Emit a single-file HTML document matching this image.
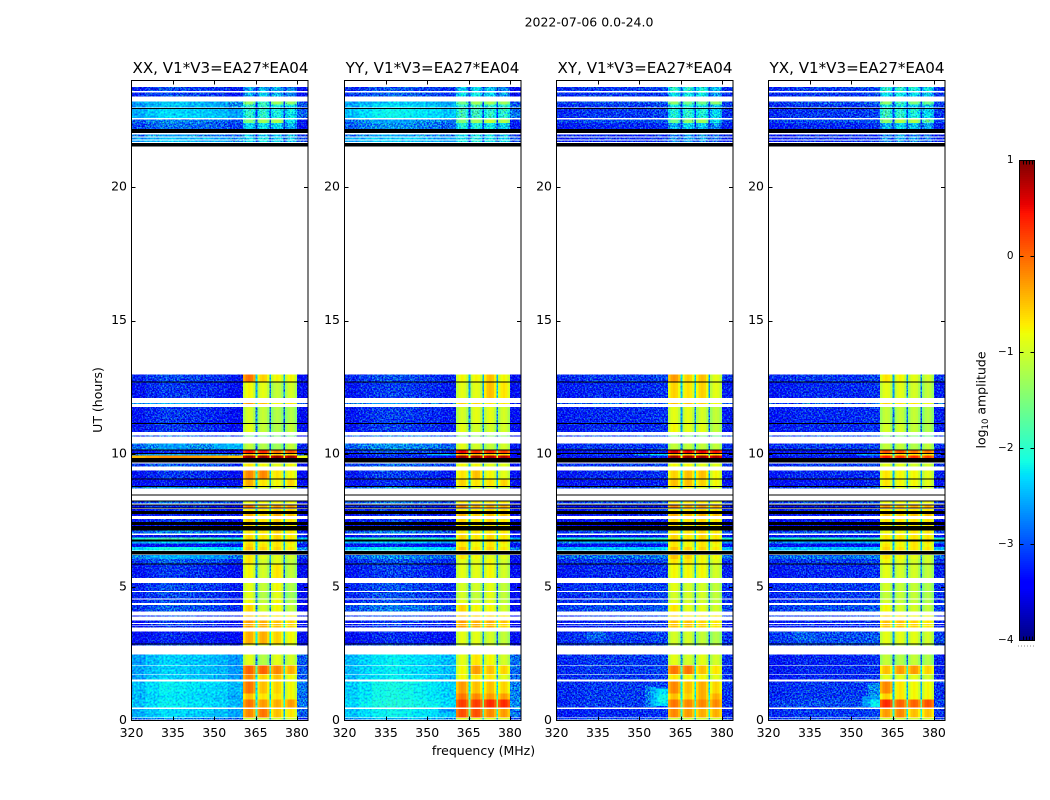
<!DOCTYPE html>
<html>
<head>
<meta charset="utf-8">
<title>2022-07-06 0.0-24.0</title>
<style>
html,body{margin:0;padding:0;background:#fff;}
svg{display:block;}
text{font-family:"DejaVu Sans","Liberation Sans",sans-serif;fill:#000;}
</style>
</head>
<body>
<svg id="figure" xmlns="http://www.w3.org/2000/svg" width="1050" height="800" viewBox="0 0 1050 800">
  <defs>
    <filter id="speckle" filterUnits="userSpaceOnUse" x="0" y="0" width="1050" height="800" color-interpolation-filters="sRGB">
      <feTurbulence type="fractalNoise" baseFrequency="0.62" numOctaves="2" seed="7" result="n"/>
      <feColorMatrix in="n" type="matrix" values="0.7 0 0 0 0.15  2.6 0 0 0 -0.8  0 2 0 0 -0.5  0 0 0 0 1" result="c"/>
      <feComposite in="SourceGraphic" in2="c" operator="arithmetic" k1="0" k2="1" k3="0.7" k4="-0.35" result="m"/>
      <feComposite in="m" in2="SourceAlpha" operator="in"/>
    </filter>
    <filter id="speckleSoft" filterUnits="userSpaceOnUse" x="0" y="0" width="1050" height="800" color-interpolation-filters="sRGB">
      <feTurbulence type="fractalNoise" baseFrequency="0.5" numOctaves="2" seed="11" result="n"/>
      <feColorMatrix in="n" type="matrix" values="0 0 0 0 0.5  1.3 0 0 0 -0.15  0 0.6 0 0 0.2  0 0 0 0 1" result="c"/>
      <feComposite in="SourceGraphic" in2="c" operator="arithmetic" k1="0" k2="1" k3="0.7" k4="-0.35" result="m"/>
      <feComposite in="m" in2="SourceAlpha" operator="in"/>
    </filter>
  </defs>
  <text x="589" y="26.5" text-anchor="middle" font-size="12.5">2022-07-06 0.0-24.0</text>
  <text x="220.5" y="73" text-anchor="middle" font-size="15.1">XX, V1*V3=EA27*EA04</text>
  <text x="432.5" y="73" text-anchor="middle" font-size="15.1">YY, V1*V3=EA27*EA04</text>
  <text x="645" y="73" text-anchor="middle" font-size="15.1">XY, V1*V3=EA27*EA04</text>
  <text x="857" y="73" text-anchor="middle" font-size="15.1">YX, V1*V3=EA27*EA04</text>
  <text x="0" y="0" transform="translate(102,400) rotate(-90)" text-anchor="middle" font-size="12.5">UT (hours)</text>
  <text x="483.5" y="755" text-anchor="middle" font-size="12.5">frequency (MHz)</text>
  <text x="0" y="0" transform="translate(985.5,400) rotate(-90)" text-anchor="middle" font-size="12.5">log<tspan font-size="8.5" dy="2.5">10</tspan><tspan dy="-2.5"> amplitude</tspan></text>
  <g id="panels"></g>
  <g id="colorbar"></g>
</svg>
<script>
// ---- chart data: UT edges of each observed row, hours ----
var rowTop = [23.75,23.55,23.21,23.10,22.94,22.53,22.40,21.98,21.86,21.75,12.98,12.68,11.91,11.75,11.13,10.69,10.39,10.15,10.00,9.94,9.64,9.38,9.06,8.78,8.21,8.06,7.94,7.74,7.56,7.34,7.13,6.96,6.87,6.71,6.63,6.50,6.21,6.06,5.86,5.15,4.81,4.54,4.34,3.94,3.75,3.62,3.55,3.34,2.86,2.48,2.06,1.73,1.47,1.01,0.79,0.44,0.09];
var rowBottom = [23.60,23.40,23.10,22.98,22.60,22.40,22.19,21.90,21.79,21.69,12.72,12.10,11.88,11.16,10.81,10.65,10.17,10.03,9.94,9.84,9.53,9.08,8.80,8.70,8.14,7.99,7.85,7.66,7.44,7.29,7.02,6.87,6.79,6.63,6.50,6.38,6.06,5.88,5.34,4.85,4.57,4.40,4.09,3.90,3.65,3.57,3.48,2.88,2.81,2.09,1.75,1.53,1.01,0.79,0.48,0.12,0.03];
// rows that fall below the colour range (drawn black): pairs of top, bottom UT
var lowRowsShared = [[22.97,22.94],[22.19,22.03],[21.65,21.53],[12.72,12.68],[11.16,11.13],[10.17,10.15],[10.03,10.00],[9.84,9.68],[9.08,9.06],[8.80,8.78],[8.48,8.45],[8.25,8.22],[8.10,8.07],[7.99,7.95],[7.85,7.74],[7.44,7.34],[7.29,7.13],[6.79,6.71],[6.36,6.23],[5.88,5.86],[2.88,2.86]];
// log10 amplitude per row: background, band 1, band 2, band 3, band 4
var valuesXX = [
[-3.1,-2.6,-2.5,-2.5,-2.7],[-3.1,-2.5,-2.4,-2.5,-2.7],[-2.5,-1.4,-1.9,-1.3,-1.4],[-2.5,-2.0,-2.0,-2.1,-2.2],[-2.4,-2.0,-2.0,-2.1,-2.2],[-2.8,-1.5,-1.3,-1.2,-2.2],[-2.9,-2.3,-2.2,-2.3,-2.5],[-2.7,-2.4,-2.3,-2.4,-2.5],[-2.5,-2.3,-2.2,-2.3,-2.4],[-2.5,-2.3,-2.2,-2.3,-2.4],
[-3.1,-0.1,-0.6,-0.8,-0.8],[-3.2,-0.8,-0.9,-1.1,-1.0],[-2.6,-0.3,-0.5,-0.8,-0.7],[-3.2,-1.0,-1.1,-1.2,-1.2],[-3.2,-0.9,-1.1,-1.2,-1.1],[-2.9,-1.5,-1.5,-1.5,-1.5],[-2.7,-1.1,-1.2,-1.3,-1.1],[-3.3,0.4,0.3,-0.1,0.1],[-2.6,-0.5,-0.5,-0.6,-0.6],[-0.3,0.9,0.9,0.9,0.9],
[-3.0,-0.7,-0.8,-0.9,-0.8],[-3.2,-0.2,-0.2,-0.7,-0.8],[-3.4,-0.4,-0.7,-0.8,-0.6],[-2.7,-0.9,-0.9,-1.0,-1.0],[-2.9,-0.8,-0.8,-0.8,-0.8],[-3.2,-0.1,-0.5,-0.3,-0.3],[-3.2,-0.7,-0.7,-0.6,-0.6],[-3.3,-0.4,-0.6,-0.4,-0.5],[-3.2,-0.6,-0.7,-0.6,-0.7],[-3.3,-0.6,-0.7,-0.6,-0.7],[-2.8,-0.7,-0.7,-0.6,-0.7],[-3.4,-0.6,-0.7,-0.6,-0.7],[-1.9,-0.6,-0.7,-0.6,-0.7],[-2.4,-0.7,-0.8,-0.7,-0.7],[-3.4,-0.6,-0.7,-0.7,-0.8],[-2.2,-0.5,-0.6,-0.6,-0.7],
[-2.6,-0.7,-0.9,-0.9,-1.0],[-3.0,-0.7,-1.0,-0.9,-1.1],[-3.2,-0.8,-1.0,-0.7,-1.1],[-3.1,-0.9,-1.1,-0.8,-1.2],[-3.1,-0.9,-1.2,-0.9,-1.3],[-3.1,-0.8,-1.1,-0.8,-1.2],[-3.0,-0.6,-1.0,-0.8,-1.1],[-3.1,-0.5,-0.6,-0.7,-0.7],[-3.2,-0.3,-0.4,-0.5,-0.6],[-3.2,-0.4,-0.4,-0.5,-0.6],[-3.2,-0.3,-0.4,-0.5,-0.6],[-3.3,-0.4,-0.4,-0.6,-0.8],[-3.0,-0.8,-0.9,-0.9,-1.0],
[-2.45,-0.9,-1.2,-0.9,-1.0],[-2.45,0.0,0.0,-0.2,-0.4],[-2.45,-0.2,-0.6,-0.5,-0.8],[-2.3,-0.1,-0.5,-0.6,-0.8],[-2.35,-0.5,-0.7,-0.7,-0.8],[-2.3,-0.1,-0.3,-0.4,-0.3],[-2.4,-0.2,-0.1,-0.5,-0.7],[-2.8,-1.0,-1.0,-1.0,-1.0]
];
var valuesYY = [
[-3.1,-2.4,-2.3,-2.4,-2.7],[-3.0,-2.3,-2.2,-2.3,-2.6],[-2.5,-1.6,-1.3,-1.3,-1.3],[-2.4,-2.0,-1.9,-2.0,-2.0],[-2.3,-1.9,-1.9,-2.0,-2.0],[-2.7,-1.5,-1.3,-1.1,-1.2],[-2.8,-2.1,-2.1,-2.2,-2.3],[-2.7,-2.2,-2.2,-2.3,-2.4],[-2.5,-2.2,-2.1,-2.2,-2.3],[-2.5,-2.2,-2.1,-2.2,-2.3],
[-3.1,-0.8,-0.8,-0.5,-0.8],[-3.2,-0.9,-0.9,-0.5,-0.7],[-2.7,-0.6,-0.6,-0.7,-0.7],[-3.2,-1.0,-0.9,-0.9,-1.0],[-3.2,-0.9,-1.0,-1.0,-1.0],[-2.9,-1.4,-1.4,-1.4,-1.4],[-2.8,-0.9,-1.0,-1.1,-1.0],[-3.1,0.5,0.3,0.3,0.2],[-3.2,-0.5,-0.5,-0.6,-0.6],[-3.3,0.9,0.9,0.8,0.8],
[-3.0,-0.8,-0.8,-0.9,-0.9],[-3.2,-0.7,-0.5,-0.8,-0.9],[-3.3,-0.6,-0.7,-0.7,-0.6],[-2.8,-0.9,-1.0,-1.0,-1.0],[-2.9,-0.7,-0.7,-0.7,-0.7],[-3.2,-0.2,-0.4,-0.4,-0.4],[-3.2,-0.7,-0.7,-0.6,-0.6],[-3.3,-0.4,-0.6,-0.5,-0.5],[-3.2,-0.6,-0.7,-0.6,-0.7],[-3.3,-0.6,-0.7,-0.7,-0.7],[-2.9,-0.7,-0.7,-0.7,-0.7],[-3.4,-0.6,-0.7,-0.6,-0.7],[-2.0,-0.6,-0.7,-0.6,-0.7],[-2.5,-0.7,-0.8,-0.7,-0.7],[-3.4,-0.7,-0.8,-0.7,-0.8],[-2.3,-0.5,-0.7,-0.6,-0.7],
[-2.8,-0.7,-0.8,-0.9,-0.9],[-3.1,-0.9,-0.9,-0.8,-1.0],[-3.2,-0.9,-0.9,-0.8,-1.0],[-3.1,-1.0,-1.0,-0.9,-1.1],[-3.1,-1.0,-1.1,-0.9,-1.1],[-3.1,-0.9,-1.0,-0.9,-1.1],[-2.9,-0.6,-0.8,-0.8,-1.0],[-3.1,-0.5,-0.6,-0.6,-0.7],[-3.2,-0.3,-0.4,-0.4,-0.5],[-3.2,-0.4,-0.4,-0.5,-0.6],[-3.2,-0.3,-0.4,-0.4,-0.6],[-3.3,-0.9,-0.9,-1.0,-1.1],[-3.0,-1.0,-1.0,-1.0,-1.0],
[-2.35,-0.9,-0.7,-0.8,-1.0],[-2.35,-0.8,-0.3,-0.5,-0.6],[-2.35,-0.8,-0.7,-0.7,-0.9],[-2.25,-0.3,-0.5,-0.5,-0.6],[-2.25,-0.1,-0.2,-0.3,-0.3],[-2.2,0.2,0.2,0.3,0.3],[-2.3,0.1,0.1,-0.2,-0.3],[-2.6,-0.9,-0.9,-0.9,-0.9]
];
var valuesXY = [
[-3.1,-2.0,-2.0,-2.1,-2.4],[-3.1,-2.3,-2.2,-2.2,-2.6],[-3.0,-1.4,-1.6,-1.6,-1.4],[-3.1,-2.2,-2.1,-2.2,-2.4],[-3.1,-2.1,-2.0,-2.1,-2.3],[-3.0,-1.6,-1.4,-1.3,-2.2],[-3.2,-2.5,-2.3,-2.4,-2.7],[-3.2,-2.7,-2.6,-2.7,-2.9],[-3.2,-2.7,-2.5,-2.6,-2.8],[-3.2,-2.7,-2.6,-2.7,-2.9],
[-3.1,-0.3,-0.6,-0.5,-0.9],[-3.2,-0.6,-0.7,-0.6,-0.9],[-2.9,-0.5,-0.5,-0.6,-0.8],[-3.2,-0.9,-0.9,-1.0,-1.1],[-3.2,-0.8,-0.9,-0.9,-1.1],[-3.0,-1.5,-1.5,-1.5,-1.6],[-3.1,-1.1,-1.1,-1.1,-1.1],[-3.3,0.6,0.5,0.5,0.4],[-3.1,-0.5,-0.5,-0.6,-0.6],[-3.3,0.9,0.9,0.9,0.8],
[-3.1,-0.8,-0.8,-0.9,-0.9],[-3.2,-0.6,-0.5,-0.5,-0.8],[-3.3,-0.5,-0.5,-0.6,-0.8],[-3.0,-0.8,-0.8,-0.9,-1.0],[-3.0,-0.7,-0.7,-0.7,-0.8],[-3.3,-0.2,-0.4,-0.3,-0.4],[-3.2,-0.7,-0.7,-0.6,-0.7],[-3.3,-0.4,-0.5,-0.4,-0.5],[-3.3,-0.6,-0.7,-0.6,-0.7],[-3.4,-0.6,-0.7,-0.6,-0.7],[-3.0,-0.7,-0.7,-0.6,-0.7],[-3.4,-0.6,-0.7,-0.6,-0.7],[-2.0,-0.6,-0.7,-0.6,-0.7],[-2.6,-0.7,-0.8,-0.7,-0.7],[-3.4,-0.7,-0.8,-0.7,-0.8],[-2.4,-0.5,-0.6,-0.6,-0.7],
[-2.8,-0.5,-0.6,-0.8,-0.8],[-3.1,-0.7,-0.7,-0.8,-0.9],[-3.2,-0.8,-0.8,-0.8,-1.0],[-3.1,-0.9,-1.0,-1.0,-1.1],[-3.1,-1.0,-1.0,-1.0,-1.1],[-3.1,-0.9,-1.0,-1.0,-1.1],[-3.0,-0.7,-0.9,-0.9,-1.0],[-3.1,-0.6,-0.7,-0.7,-0.7],[-3.2,-0.5,-0.5,-0.6,-0.7],[-3.2,-0.5,-0.5,-0.6,-0.7],[-3.2,-0.5,-0.5,-0.6,-0.7],[-3.1,-1.0,-1.0,-1.1,-1.2],[-3.0,-1.1,-1.1,-1.1,-1.1],
[-3.1,-0.9,-1.0,-0.9,-1.0],[-3.1,-0.1,-0.1,-0.5,-0.7],[-3.1,-0.7,-0.8,-0.8,-0.9],[-3.1,-0.2,-0.5,-0.4,-0.6],[-3.1,-0.5,-0.6,-0.4,-0.4],[-3.1,-0.1,-0.2,-0.2,-0.2],[-3.2,-0.2,-0.3,-0.4,-0.4],[-3.0,-1.0,-1.0,-1.0,-1.0]
];
var valuesYX = [
[-3.1,-2.0,-2.0,-2.1,-2.2],[-3.1,-2.3,-2.2,-2.3,-2.4],[-3.0,-1.4,-1.9,-1.5,-1.6],[-3.1,-2.2,-2.2,-2.3,-2.4],[-3.1,-1.9,-2.0,-2.1,-2.3],[-3.0,-1.4,-1.2,-1.2,-1.7],[-3.2,-2.5,-2.3,-2.4,-2.6],[-3.2,-2.7,-2.6,-2.7,-2.9],[-3.2,-2.7,-2.5,-2.6,-2.8],[-3.2,-2.7,-2.6,-2.7,-2.9],
[-3.1,-0.7,-0.8,-0.9,-1.0],[-3.2,-0.9,-0.9,-1.0,-1.1],[-2.9,-0.6,-0.7,-0.7,-0.8],[-3.2,-1.1,-1.1,-1.1,-1.2],[-3.2,-1.0,-1.0,-1.1,-1.2],[-3.0,-1.5,-1.5,-1.5,-1.6],[-3.1,-1.1,-1.1,-1.2,-1.1],[-3.3,0.1,0.1,-0.1,-0.1],[-3.1,-0.7,-0.7,-0.7,-0.7],[-3.3,0.4,0.3,0.3,0.2],
[-3.1,-0.9,-0.9,-1.0,-1.0],[-3.2,-0.7,-0.8,-0.8,-0.9],[-3.3,-0.7,-0.8,-0.8,-0.9],[-3.0,-0.9,-0.9,-1.0,-1.0],[-3.0,-0.8,-0.8,-0.8,-0.8],[-3.3,-0.3,-0.5,-0.4,-0.4],[-3.2,-0.7,-0.7,-0.7,-0.7],[-3.3,-0.5,-0.6,-0.5,-0.5],[-3.3,-0.7,-0.7,-0.7,-0.7],[-3.4,-0.7,-0.7,-0.7,-0.7],[-3.0,-0.8,-0.8,-0.7,-0.7],[-3.4,-0.7,-0.7,-0.7,-0.7],[-2.0,-0.7,-0.7,-0.7,-0.7],[-2.6,-0.8,-0.8,-0.7,-0.7],[-3.4,-0.7,-0.8,-0.7,-0.8],[-2.4,-0.6,-0.7,-0.7,-0.7],
[-2.8,-0.7,-0.8,-0.9,-1.0],[-3.1,-0.8,-0.9,-1.0,-1.0],[-3.2,-0.9,-1.0,-1.0,-1.1],[-3.1,-1.0,-1.1,-1.1,-1.2],[-3.1,-1.1,-1.1,-1.1,-1.2],[-3.1,-1.0,-1.1,-1.1,-1.2],[-3.0,-0.8,-1.0,-1.0,-1.1],[-3.1,-0.6,-0.7,-0.8,-0.8],[-3.2,-0.5,-0.5,-0.6,-0.7],[-3.2,-0.5,-0.6,-0.6,-0.7],[-3.2,-0.5,-0.5,-0.6,-0.7],[-3.0,-0.9,-0.9,-0.9,-1.0],[-3.0,-1.1,-1.1,-1.1,-1.1],
[-3.2,-1.1,-1.2,-1.1,-1.2],[-3.2,-0.5,-0.3,-0.3,-0.6],[-3.2,-0.9,-0.9,-0.9,-1.0],[-3.1,-0.2,-0.7,-0.8,-0.8],[-3.1,-0.6,-0.7,-0.8,-0.8],[-3.0,0.3,0.0,0.0,0.1],[-3.1,-0.3,-0.2,-0.5,-0.5],[-3.0,-1.0,-1.0,-1.0,-1.0]
];
// background shape across frequency: eight 5 MHz bins from 320, then the 380-384 edge
var shapeXX = [-0.14,0.0,0.1,0.08,0.04,0,-0.05,-0.18,-0.5];
var shapeYY = [-0.12,0.0,0.1,0.14,0.1,0.05,0,-0.1,-0.5];
var shapeXY = [-0.1,-0.05,0,0,0,0,0,0.05,-0.05];
var shapeYX = [-0.1,-0.05,0,0,0,0,0,0.05,-0.05];
// localised bright patches: top UT, bottom UT, start MHz, end MHz, log10 amplitude
var patchesXX = [[10.39,10.19,350,360.5,-2.5]];
var patchesYY = [[10.0,9.94,350,360.5,-2.5],[0.44,0.3,354,360.5,-2.6]];
var patchesXY = [[1.3,0.5,352,354,-2.8],[1.25,0.5,354,356,-2.5],[1.2,0.55,356,360.5,-2.3],[1.0,0.65,357,360.5,-2.15],[10.0,9.94,348,354,-2.7],[10.0,9.94,354,360.5,-2.3],[3.3,3.0,331,338,-2.9]];
var patchesYX = [[1.4,0.9,356,360.5,-2.7],[0.9,0.79,354,360.5,-2.6],[0.79,0.5,354,357,-2.6],[0.79,0.5,357,360.5,-2.2],[10.0,9.94,352,360.5,-2.6],[3.3,3.0,329,337,-2.9]];
// panel labels and ticks
var panelIds = ['xx','yy','xy','yx'];
var panelValues = [valuesXX,valuesYY,valuesXY,valuesYX];
var panelShapes = [shapeXX,shapeYY,shapeXY,shapeYX];
var panelPatches = [patchesXX,patchesYY,patchesXY,patchesYX];
var freqTicks = [320,335,350,365,380];
var utTicks = [0,5,10,15,20];
var colorTicks = [1,0,-1,-2,-3,-4];
var colorTickLabels = ['1','0','\u22121','\u22122','\u22123','\u22124'];
// band layout in MHz and the lobe profile inside each band
var bandStart = [360.5,365.6,370.6,375.7];
var bandEnd = [365.0,370.0,375.1,380.0];
var bandLobe = [-0.22,0,0.06,0,-0.22];

var NS = 'http://www.w3.org/2000/svg';
var panelLeft = [131.5,344.5,556.5,768.5];
var panelWidth = 176.5;
var axTop = 80.5, axBottom = 720.5;
var freqMin = 320, freqMax = 384, utMin = 0, utMax = 24, cMin = -4, cMax = 1;

function xScale(i,f){ return panelLeft[i] + (f-freqMin)/(freqMax-freqMin)*panelWidth; }
function yScale(t){ return axBottom - (t-utMin)/(utMax-utMin)*(axBottom-axTop); }
function interp(xs,ys,x){
  for(var k=1;k<xs.length;k++){ if(x<=xs[k]) return ys[k-1]+(ys[k]-ys[k-1])*(x-xs[k-1])/(xs[k]-xs[k-1]); }
  return ys[ys.length-1];
}
function jet(v){
  if(v<cMin) return '#000000';
  var u = Math.min(1,(v-cMin)/(cMax-cMin));
  var r = interp([0,0.35,0.66,0.89,1],[0,0,1,1,0.5],u);
  var g = interp([0,0.125,0.375,0.64,0.91,1],[0,0,1,1,0,0],u);
  var b = interp([0,0.11,0.34,0.65,1],[0.5,1,1,0,0],u);
  return 'rgb('+Math.round(r*255)+','+Math.round(g*255)+','+Math.round(b*255)+')';
}
function mk(tag,parent,attrs){
  var el = document.createElementNS(NS,tag);
  for(var a in attrs){ el.setAttribute(a,attrs[a]); }
  parent.appendChild(el);
  return el;
}
function addCell(layers,i,isBand,tTop,tBot,f0,f1,v){
  var x0 = xScale(i,f0), x1 = xScale(i,f1), y0 = yScale(tTop), y1 = yScale(tBot);
  var target = layers.plain;
  if(v >= cMin && v < -1.6){
    target = (isBand || v < -2.65) ? layers.strong : layers.soft;
  }
  var el = mk('rect',target,{x:x0.toFixed(2),y:y0.toFixed(2),width:(x1-x0).toFixed(2),height:Math.max(1,y1-y0).toFixed(2),fill:jet(v),'shape-rendering':'crispEdges'});
  
  
}
function addLine(parent,x1,y1,x2,y2,w){
  var el = mk('line',parent,{x1:x1,y1:y1,x2:x2,y2:y2,stroke:'#000','stroke-width':w||1});
  
  
}
function addText(parent,x,y,anchor,size,str,name){
  var el = mk('text',parent,{x:x,y:y,'text-anchor':anchor,'font-size':size});
  el.textContent = str;
  
  
}

var panelsRoot = document.getElementById('panels');
panelIds.forEach(function(id,i){
  var g = mk('g',panelsRoot,{});
  
  
  var strong = mk('g',g,{filter:'url(#speckle)'});
  
  
  var soft = mk('g',g,{filter:'url(#speckleSoft)'});
  
  
  var plain = mk('g',g,{});
  
  
  var layers = {strong:strong,soft:soft,plain:plain};
  var vals = panelValues[i], shape = panelShapes[i];
  for(var r=0;r<rowTop.length;r++){
    var row = vals[r], tT = rowTop[r], tB = rowBottom[r];
    for(var b=0;b<8;b++){
      var f0 = freqMin+b*5, f1 = (b===7)?bandStart[0]:f0+5;
      addCell(layers,i,false,tT,tB,f0,f1,Math.max(row[0]+shape[b],-3.45));
    }
    addCell(layers,i,false,tT,tB,bandEnd[3],freqMax,Math.max(row[0]+shape[8],-3.45));
    for(var s=0;s<4;s++){
      var w = (bandEnd[s]-bandStart[s])/bandLobe.length;
      for(var l=0;l<bandLobe.length;l++){
        addCell(layers,i,true,tT,tB,bandStart[s]+l*w,bandStart[s]+(l+1)*w,row[s+1]+bandLobe[l]);
      }
      if(s<3){
        addCell(layers,i,false,tT,tB,bandEnd[s],bandStart[s+1],Math.max(Math.min(row[s+1],row[s+2])-1.7,-3.1));
      }
    }
  }
  panelPatches[i].forEach(function(p){ addCell(layers,i,false,p[0],p[1],p[2],p[3],p[4]); });
  lowRowsShared.forEach(function(p){ addCell(layers,i,false,p[0],p[1],freqMin,freqMax,-9); });

  var L = panelLeft[i], R = L+panelWidth;
  var frame = mk('rect',g,{x:L,y:axTop,width:panelWidth,height:axBottom-axTop,fill:'none',stroke:'#000','stroke-width':1});
  
  
  freqTicks.forEach(function(f){
    var x = Math.round(xScale(i,f))+0.5;
    if(f!==freqMin){
      addLine(g,x,axBottom,x,axBottom-4);
      addLine(g,x,axTop,x,axTop+4);
    }
    addText(g,xScale(i,f),737,'middle',12.5,String(f),'x-tick-label');
  });
  utTicks.forEach(function(t){
    var y = Math.round(yScale(t))+0.5;
    if(t!==utMin){
      addLine(g,L,y,L+4,y);
      addLine(g,R,y,R-4,y);
    }
    addText(g,L-4.5,yScale(t)+3.5,'end',12.5,String(t),'y-tick-label');
  });
});

// colorbar
var cbRoot = document.getElementById('colorbar');
var cbLeft = 1019.5, cbWidth = 15, cbTop = 160.5, cbBottom = 640.5;
function cScale(v){ return cbBottom - (v-cMin)/(cMax-cMin)*(cbBottom-cbTop); }
for(var q=0;q<240;q++){
  var vLow = cMin+(cMax-cMin)*q/240, vHigh = cMin+(cMax-cMin)*(q+1)/240;
  var seg = mk('rect',cbRoot,{x:cbLeft,y:cScale(vHigh).toFixed(2),width:cbWidth,height:(cScale(vLow)-cScale(vHigh)+0.3).toFixed(2),fill:jet((vLow+vHigh)/2),'shape-rendering':'crispEdges'});
  
  
}
var cbFrame = mk('rect',cbRoot,{x:cbLeft,y:cbTop,width:cbWidth,height:cbBottom-cbTop,fill:'none',stroke:'#000','stroke-width':1});


colorTicks.forEach(function(v,k){
  var y = Math.round(cScale(v)-0.5)+0.5;
  addLine(cbRoot,cbLeft,y,cbLeft+4,y);
  addLine(cbRoot,cbLeft+cbWidth,y,cbLeft+cbWidth-4,y);
  addText(cbRoot,1013.5,cScale(v)+2.5,'end',10.5,colorTickLabels[k],'colorbar-tick-label');
});
for(var m=1;m<5;m++){
  var mx = Math.round(cbLeft+cbWidth*m/5)+0.5;
  addLine(cbRoot,mx,cbTop,mx,cbTop+4);
  addLine(cbRoot,mx,cbBottom,mx,cbBottom-4);
}
for(var d=0;d<6;d++){
  var dot = mk('rect',cbRoot,{x:1018+d*3,y:645.5,width:1,height:1,fill:'#888'});
  
  
}
</script>
</body>
</html>
